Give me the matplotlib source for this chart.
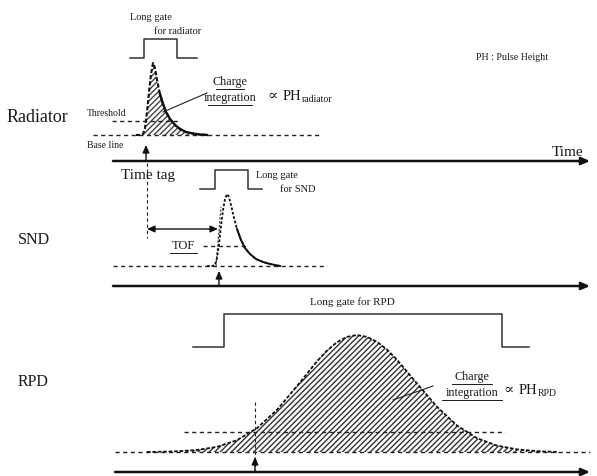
import matplotlib
matplotlib.use("Agg")
import matplotlib.pyplot as plt

# pulse outlines (pixel coords, y grows downwards)
rad_x = [136, 140, 143, 145, 147, 149, 151, 153, 155, 157, 160, 163, 166, 170, 175, 180, 186, 193, 200, 207]
rad_y = [135, 135, 134, 128, 112, 92, 74, 63, 68, 80, 94, 104, 112, 119, 125, 129, 132, 133.5, 134.5, 135]
rad_base = 135

snd_x = [207, 212, 215, 217, 219, 221, 223, 225, 227, 229, 231, 234, 237, 241, 245, 250, 256, 263, 270, 280]
snd_y = [266, 266, 265, 258, 244, 226, 210, 199, 194, 197, 205, 218, 229, 240, 248, 254, 259, 262, 264, 266]
snd_base = 266

rpd_x = [147, 157, 177, 197, 217, 237, 257, 277, 297, 317, 327, 337, 347, 357,
         367, 377, 387, 397, 417, 437, 457, 477, 497, 517, 537, 557]
rpd_y = [452, 451.8, 451.3, 450, 446.9, 440.2, 428.2, 409.8, 386.1, 361.3, 350.6, 342.2, 336.9, 335,
         336.9, 341.8, 349.6, 359.8, 383.5, 406.8, 425.5, 438.2, 445.6, 449.4, 451.1, 452]
rpd_base = 452

# gates
rad_gate_x = [130, 144, 144, 177, 177, 197]
rad_gate_y = [58, 58, 39, 39, 58, 58]
snd_gate_x = [200, 215, 215, 248, 248, 262]
snd_gate_y = [189, 189, 170, 170, 189, 189]
rpd_gate_x = [193, 224, 224, 502, 502, 529]
rpd_gate_y = [347, 347, 314, 314, 347, 347]

serif = ["Liberation Serif", "DejaVu Serif"]
tc = "#1a1a1a"

fig = plt.figure(figsize=(5.97, 4.76), dpi=100)
ax = fig.add_axes([0, 0, 1, 1])
ax.set_xlim(0, 597)
ax.set_ylim(476, 0)
ax.axis("off")

def txt(x, y, s, size, ha="left", va="center"):
    ax.text(x, y, s, fontsize=size, family=serif, color=tc, ha=ha, va=va)

def dash(x0, x1, y0, y1, lw=1.0):
    ax.plot([x0, x1], [y0, y1], ls=(0, (3, 2.5)), color="#222", lw=lw)

def taxis(y, x0=113, x1=590):
    ax.annotate("", xy=(x1, y), xytext=(x0, y),
                arrowprops=dict(arrowstyle="-|>,head_length=0.5,head_width=0.22",
                                lw=1.8, color="#111", shrinkA=0, shrinkB=0))

def uparrow(x, y0, y1):
    ax.annotate("", xy=(x, y1), xytext=(x, y0),
                arrowprops=dict(arrowstyle="-|>,head_length=0.45,head_width=0.2",
                                lw=1.0, color="#111", shrinkA=0, shrinkB=0))

# ---------------- Radiator ----------------
txt(7, 117, "Radiator", 13)
ax.plot(rad_gate_x, rad_gate_y, color="#333", lw=1.1)
txt(130, 17, "Long gate", 7.5)
txt(154, 31, "for radiator", 7.5)
txt(476, 58, "PH : Pulse Height", 7.2)

dash(93, 320, rad_base, rad_base)
dash(112, 180, 121, 121)
txt(87, 114, "Threshold", 7)
txt(87, 146, "Base line", 7)
ax.fill_between(rad_x, rad_y, rad_base, facecolor="white", edgecolor="#444",
                hatch="//////", linewidth=0)
ax.plot(rad_x, rad_y, color="#111", lw=1.5, ls=(0, (2, 1)))
ax.plot(rad_x[10:], rad_y[10:], color="#111", lw=1.7)
uparrow(146, 160, 145)

txt(230, 82, "Charge", 8.7, ha="center")
txt(230, 98, "integration", 8.7, ha="center")
ax.plot([216, 244], [89, 89], color=tc, lw=0.7)
ax.plot([208, 252], [105, 105], color=tc, lw=0.7)
ax.plot([207, 163], [93, 112], color="#222", lw=0.8)
txt(267, 96, "\u221d", 11)
txt(283, 96, "PH", 10.5)
txt(302, 99, "radiator", 7)

taxis(161)
txt(552, 152, "Time", 11)

# ---------------- SND ----------------
txt(18, 240, "SND", 11.5)
dash(147, 147, 163, 238, lw=0.8)
txt(121, 175, "Time tag", 11)
ax.plot(snd_gate_x, snd_gate_y, color="#333", lw=1.1)
txt(256, 175, "Long gate", 7.5)
txt(280, 189, "for SND", 7.5)

dash(113, 327, snd_base, snd_base)
dash(203, 248, 246, 246)
ax.plot([216, 221], [266, 207], ls=(0, (2, 1.5)), color="#333", lw=0.8)
ax.plot(snd_x, snd_y, color="#111", lw=1.3, ls=(0, (1.5, 1)))
ax.plot(snd_x[12:], snd_y[12:], color="#111", lw=1.4)
ax.annotate("", xy=(147, 229), xytext=(218, 229),
            arrowprops=dict(arrowstyle="<|-|>,head_length=0.45,head_width=0.2",
                            lw=1.0, color="#111", shrinkA=0, shrinkB=0))
txt(183, 246, "TOF", 9, ha="center")
ax.plot([170, 197], [253, 253], color=tc, lw=0.7)
uparrow(219, 286, 271)
taxis(286)

# ---------------- RPD ----------------
txt(18, 382, "RPD", 11.5)
ax.plot(rpd_gate_x, rpd_gate_y, color="#333", lw=1.1)
txt(310, 302, "Long gate for RPD", 8)

dash(115, 590, rpd_base, rpd_base)
dash(184, 505, 432, 432)
dash(255, 255, 402, 470, lw=0.8)
ax.fill_between(rpd_x, rpd_y, rpd_base, facecolor="white", edgecolor="#333",
                hatch="//////", linewidth=0)
ax.plot(rpd_x, rpd_y, color="#111", lw=1.3, ls=(0, (2, 1)))

txt(472, 377, "Charge", 8.7, ha="center")
txt(472, 393, "integration", 8.7, ha="center")
ax.plot([452, 492], [384, 384], color=tc, lw=0.7)
ax.plot([442, 502], [400, 400], color=tc, lw=0.7)
ax.plot([433, 393], [386, 400], color="#222", lw=0.8)
txt(503, 390, "\u221d", 11)
txt(519, 390, "PH", 10.5)
txt(538, 393, "RPD", 7)
uparrow(255, 472, 457)
taxis(472, 115)

fig.savefig("out.png", dpi=100)
